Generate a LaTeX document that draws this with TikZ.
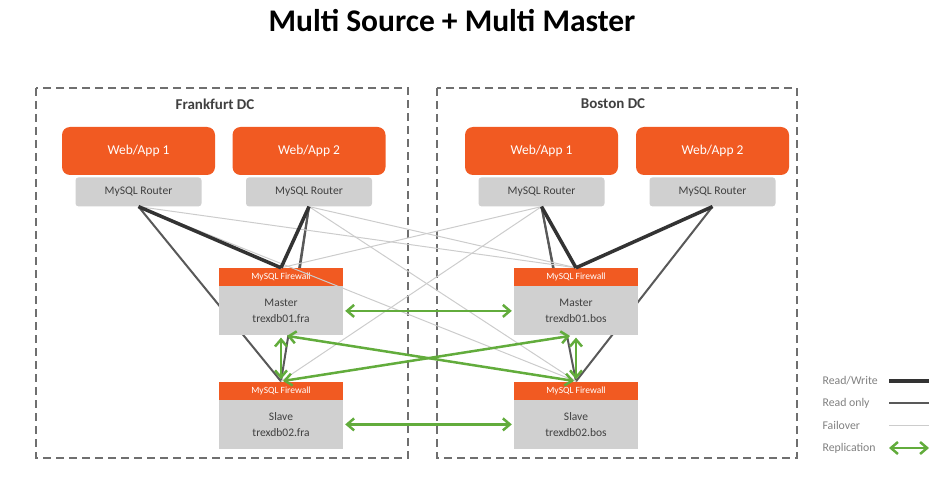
\documentclass[tikz,border=0pt]{standalone}
\usepackage{fontspec}
\setmainfont{Carlito}
\usetikzlibrary{positioning,arrows.meta}
\pgfdeclarelayer{background}
\pgfsetlayers{background,main}
\definecolor{apporange}{HTML}{F15A22}
\definecolor{boxgray}{HTML}{D0D0D0}
\definecolor{textgray}{HTML}{404040}
\definecolor{replgreen}{HTML}{62AC3C}
\definecolor{dashgray}{HTML}{6F6F6F}
\begin{document}
\begin{tikzpicture}[x=1pt, y=-1pt,
    app/.style={rectangle, rounded corners=8pt, fill=apporange, text=white, minimum width=153pt, minimum height=48pt, font=\fontsize{13.5}{16}\selectfont},
    router/.style={rectangle, rounded corners=3pt, fill=boxgray, text=textgray, minimum width=126pt, minimum height=29pt, font=\fontsize{11.6}{13}\selectfont},
    firewall/.style={rectangle, fill=apporange, text=white, minimum width=124pt, minimum height=18pt, inner sep=0pt, font=\fontsize{9.5}{11}\selectfont},
    db/.style={rectangle, fill=boxgray, text=textgray, minimum width=124pt, minimum height=49pt, align=center, font=\fontsize{11.5}{16}\selectfont},
    dcbox/.style={draw=dashgray, line width=2pt, dash pattern=on 8pt off 5pt},
    dclabel/.style={text=textgray, font=\fontsize{15}{18}\selectfont\bfseries},
    legend/.style={anchor=west, text=black!50, font=\fontsize{11.8}{13}\selectfont},
    rw/.style={line width=3.5pt, color=black!80},
    ro/.style={line width=2pt, color=black!65},
    fo/.style={line width=1pt, color=black!20},
    repl/.style={line width=2.5pt, color=replgreen, {Straight Barb[length=7pt,width=12pt]}-{Straight Barb[length=7pt,width=12pt]}, shorten <=2pt, shorten >=2pt}]
    \useasboundingbox (0,0) rectangle (945,497);

    \node[font=\fontsize{31.5}{36}\selectfont\bfseries] (title) at (452,21) {Multi Source + Multi Master};

    \draw[dcbox] (36,88) rectangle (408,458);
    \draw[dcbox] (437,88) rectangle (797,458);
    \node[dclabel] (fra) at (215,104) {Frankfurt DC};
    \node[dclabel] (bos) at (613,104) {Boston DC};

    \node[app] (fweb1) at (138.5,151) {Web/App 1};
    \node[app] (fweb2) at (309,151) {Web/App 2};
    \node[app] (bweb1) at (541.5,151) {Web/App 1};
    \node[app] (bweb2) at (712.5,151) {Web/App 2};
    \node[router, below=2pt of fweb1] (frouter1) {MySQL Router};
    \node[router, below=2pt of fweb2] (frouter2) {MySQL Router};
    \node[router, below=2pt of bweb1] (brouter1) {MySQL Router};
    \node[router, below=2pt of bweb2] (brouter2) {MySQL Router};

    \node[firewall] (fmfw) at (281,277) {MySQL Firewall};
    \node[firewall] (fsfw) at (281,390.5) {MySQL Firewall};
    \node[firewall] (bmfw) at (576,277) {MySQL Firewall};
    \node[firewall] (bsfw) at (576,390.5) {MySQL Firewall};

    \begin{pgfonlayer}{background}
    \draw[ro] (frouter1.south) -- (fsfw.north);
    \draw[ro] (frouter2.south) -- ([xshift=19pt]fmfw.north);
    \draw[ro] (frouter2.south) -- (fsfw.north);
    \draw[ro] (brouter1.south) -- ([xshift=-23pt]bmfw.north);
    \draw[ro] (brouter1.south) -- (bsfw.north);
    \draw[ro] (brouter2.south) -- (bsfw.north);
    \end{pgfonlayer}

    \draw[fo] (frouter1.south) -- (bmfw.north);
    \draw[fo] (frouter1.south) -- (bsfw.north);
    \draw[fo] (frouter2.south) -- (bmfw.north);
    \draw[fo] (frouter2.south) -- (bsfw.north);
    \draw[fo] (brouter1.south) -- (fmfw.north);
    \draw[fo] (brouter1.south) -- (fsfw.north);

    \draw[rw] (frouter1.south) -- (fmfw.north);
    \draw[rw] (frouter2.south) -- (fmfw.north);
    \draw[rw] (brouter1.south) -- (bmfw.north);
    \draw[rw] (brouter2.south) -- (bmfw.north);

    \node[db, below=0pt of fmfw] (fmaster) {Master\\trexdb01.fra};
    \node[db, below=0pt of fsfw] (fslave) {Slave\\trexdb02.fra};
    \node[db, below=0pt of bmfw] (bmaster) {Master\\trexdb01.bos};
    \node[db, below=0pt of bsfw] (bslave) {Slave\\trexdb02.bos};

    \draw[repl] (fmaster.east) -- (bmaster.west);
    \draw[repl] (fslave.east) -- (bslave.west);
    \draw[repl] (fmaster.south) -- (fsfw.north);
    \draw[repl] (bmaster.south) -- (bsfw.north);
    \draw[repl] ([xshift=4pt]fmaster.south) -- (bsfw.north);
    \draw[repl] (fsfw.north) -- ([xshift=-4pt]bmaster.south);

    \node[legend] (lrw) at (819,381) {Read/Write};
    \node[legend] (lro) at (819,403) {Read only};
    \node[legend] (lfo) at (819,425) {Failover};
    \node[legend] (lrp) at (819,448) {Replication};
    \coordinate (lrwa) at (889,381);
    \coordinate (lrwb) at (929,381);
    \coordinate (lroa) at (889,403);
    \coordinate (lrob) at (929,403);
    \coordinate (lfoa) at (889,425);
    \coordinate (lfob) at (929,425);
    \coordinate (lrpa) at (889,448);
    \coordinate (lrpb) at (929,448);
    \draw[rw] (lrwa) -- (lrwb);
    \draw[ro] (lroa) -- (lrob);
    \draw[fo] (lfoa) -- (lfob);
    \draw[repl, shorten <=0pt, shorten >=0pt] (lrpa) -- (lrpb);
\end{tikzpicture}
\end{document}
